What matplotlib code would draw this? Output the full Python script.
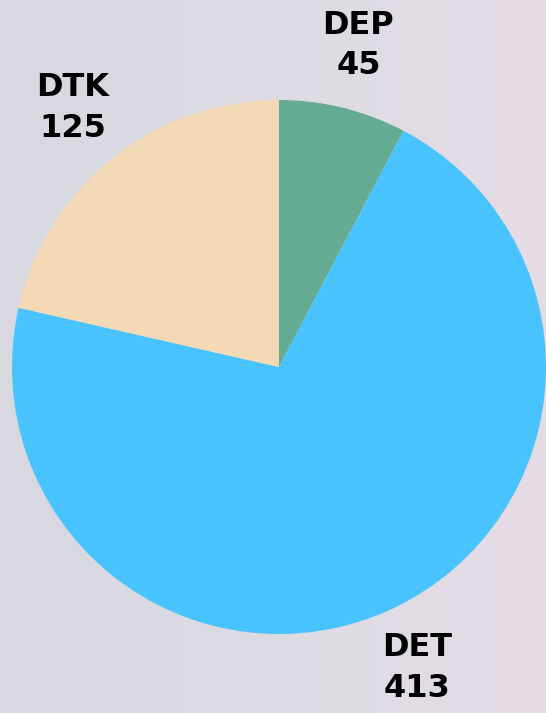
import matplotlib.pyplot as plt
import numpy as np
from matplotlib.colors import LinearSegmentedColormap

categories = ["DEP", "DET", "DTK"]
values = [45, 413, 125]
colors = ["#66ac94", "#49c3fd", "#f3d9b5"]

W, H = 546, 713
fig = plt.figure(figsize=(W / 100, H / 100), dpi=100)

# soft background wash
bg = fig.add_axes([0, 0, 1, 1])
cmap = LinearSegmentedColormap.from_list("bg", ["#d7d8e0", "#dcdbe3", "#e6dce6"])
grad = np.linspace(0, 1, 256)[None, :] * np.ones((256, 1))
bg.imshow(grad, cmap=cmap, aspect="auto", extent=[0, 1, 0, 1])
bg.axis("off")

# pie box in pixels: x 12..546, y 100..634
ax = fig.add_axes([12 / W, (H - 634) / H, 534 / W, 534 / H])
ax.patch.set_alpha(0)
labels = [f"{c}\n{v}" for c, v in zip(categories, values)]
wedges, texts = ax.pie(values, colors=colors, startangle=90, counterclock=False,
                       labels=labels, labeldistance=1.24, radius=1,
                       wedgeprops=dict(linewidth=0))
for t in texts:
    t.set_ha("center")
    t.set_va("center")
    t.set_fontsize(23)
    t.set_fontweight("heavy")
    t.set_family(["DejaVu Sans"])
    t.set_linespacing(1.4)
    t.set_clip_on(False)
ax.set_xlim(-1, 1)
ax.set_ylim(-1, 1)
ax.set_aspect("equal")

fig.savefig("out.png", dpi=100)
